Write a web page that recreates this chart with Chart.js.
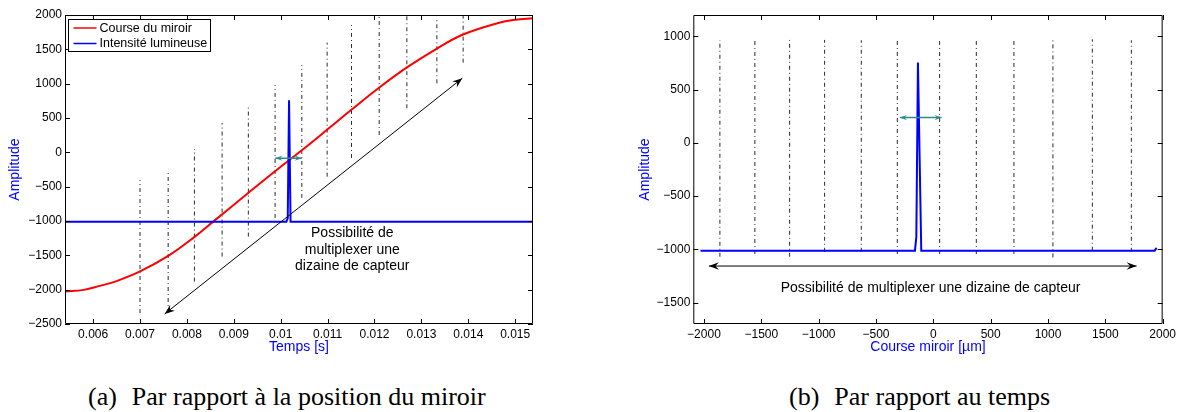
<!DOCTYPE html>
<html>
<head>
<meta charset="utf-8">
<script src="https://cdn.jsdelivr.net/npm/chart.js@4.4.0/dist/chart.umd.min.js"></script>
<style>
  body { margin: 0; background: #fff; width: 1179px; height: 412px; position: relative; overflow: hidden; }
  canvas { position: absolute; top: 0; }
  #cA { left: 0; }
  #cB { left: 620px; }
  .cap { position: absolute; top: 384px; font: 26px "Liberation Serif", "Times New Roman", serif; line-height: 26px; white-space: nowrap; color: #000; }
  .cap span { margin-right: 15px; }
</style>
</head>
<body>
<canvas id="cA" width="560" height="370"></canvas>
<canvas id="cB" width="559" height="370"></canvas>
<div class="cap" style="left:88px"><span>(a)</span>Par rapport à la position du miroir</div>
<div class="cap" style="left:789px"><span>(b)</span>Par rapport au temps</div>
<script>
// (a) amplitude vs temps
const timeTicks = [0.006, 0.007, 0.008, 0.009, 0.010, 0.011, 0.012, 0.013, 0.014, 0.015];
const ampTicksA = [-2500, -2000, -1500, -1000, -500, 0, 500, 1000, 1500, 2000];

const mirrorT   = [0.0054, 0.0058, 0.00614, 0.0065, 0.0070, 0.0076, 0.00817, 0.00856, 0.0093, 0.0099, 0.01045, 0.0110, 0.01152, 0.01211, 0.0127, 0.01334, 0.0139, 0.01466, 0.0150, 0.01538];
const mirrorAmp = [-2028, -2003, -1945, -1875, -1735, -1508, -1227, -1009, -596, -265, 30, 335, 627, 948, 1240, 1515, 1719, 1888, 1930, 1952];

const lightT    = [0.0054, 0.01012, 0.01015, 0.010178, 0.01021, 0.01538];
const lightAmp  = [-1010, -1010, -960, 760, -1010, -1010];

const marksT      = [0.0070, 0.0076, 0.00816, 0.00875, 0.00931, 0.00988, 0.01045, 0.01099, 0.01151, 0.0121, 0.01269, 0.01333, 0.01389];
const marksTop    = [-404, -256, 49, 427, 689, 980, 1271, 1597, 1854, 2000, 2000, 1950, 2000];
const marksBottom = [-2340, -2340, -1882, -1518, -1227, -955, -664, -354, -82, 253, 642, 1006, 1306];

// (b) amplitude vs course miroir
const posTicks  = [-2000, -1500, -1000, -500, 0, 500, 1000, 1500, 2000];
const ampTicksB = [-1500, -1000, -500, 0, 500, 1000];

const lightPos  = [-2030, -160, -148, -134, -105, 1930, 1947];
const lightAmpB = [-1012, -1012, -880, 754, -1012, -1012, -985];

const marksPos     = [-1861, -1556, -1253, -948, -628, -314, 55, 375, 703, 1043, 1387, 1727];
const marksTopB    = [963, 960, 966, 966, 963, 963, 963, 963, 963, 963, 972, 963];
const marksBottomB = [-1069, -1043, -1069, -1022, -1022, -1043, -1043, -1043, -1043, -1075, -1012, -1022];

Chart.defaults.font.family = '"Liberation Sans", Arial, sans-serif';
Chart.defaults.color = '#000';

const minus = v => String(v).replace('-', '\u2212');

function axes(o) {
  return {
    x: {
      type: 'linear', min: o.xMin, max: o.xMax,
      afterBuildTicks: s => { s.ticks = o.xTicks.map(v => ({ value: v })); },
      afterFit: s => { s.height = 46; },
      grid: { display: false, drawTicks: false }, border: { display: false },
      ticks: { padding: 3, autoSkip: false, maxRotation: 0, font: { size: 12 }, callback: o.xFmt },
      title: { display: true, text: o.xTitle, color: '#0000ff', font: { size: 14 }, padding: { top: 0, bottom: 14 } },
    },
    y: {
      type: 'linear', min: o.yMin, max: o.yMax,
      afterBuildTicks: s => { s.ticks = o.yTicks.map(v => ({ value: v })); },
      afterFit: s => { s.width = o.yWidth; },
      grid: { display: false, drawTicks: false }, border: { display: false },
      ticks: { padding: 3, autoSkip: false, font: { size: 12 }, callback: v => minus(v) },
      title: { display: true, text: 'Amplitude', color: '#0000ff', font: { size: 14 }, padding: { top: o.yTitlePad, bottom: 0 } },
    },
  };
}

// box + inward ticks on the four sides, like matlab
const frame = {
  id: 'frame',
  afterDatasetsDraw(chart) {
    const { ctx, chartArea: a, scales: { x, y } } = chart;
    ctx.save();
    ctx.strokeStyle = '#000';
    ctx.lineWidth = 1;
    ctx.beginPath();
    ctx.rect(a.left + 0.5, a.top + 0.5, a.width - 1, a.height - 1);
    x.ticks.forEach(t => {
      const px = Math.round(x.getPixelForValue(t.value)) + 0.5;
      ctx.moveTo(px, a.bottom); ctx.lineTo(px, a.bottom - 5);
      ctx.moveTo(px, a.top); ctx.lineTo(px, a.top + 5);
    });
    y.ticks.forEach(t => {
      const py = Math.round(y.getPixelForValue(t.value)) + 0.5;
      ctx.moveTo(a.left, py); ctx.lineTo(a.left + 5, py);
      ctx.moveTo(a.right, py); ctx.lineTo(a.right - 5, py);
    });
    ctx.stroke();
    ctx.restore();
  }
};

function head(ctx, x0, y0, x1, y1, len, w) {
  const ang = Math.atan2(y1 - y0, x1 - x0);
  ctx.save();
  ctx.translate(x1, y1);
  ctx.rotate(ang);
  ctx.beginPath();
  ctx.moveTo(0, 0);
  ctx.lineTo(-len, -w / 2);
  ctx.lineTo(-len * 0.65, 0);
  ctx.lineTo(-len, w / 2);
  ctx.closePath();
  ctx.fill();
  ctx.restore();
}

// arrows and text placed in data units
function notes(arrows, texts) {
  return {
    id: 'notes',
    afterDatasetsDraw(chart) {
      const { ctx, scales: { x, y } } = chart;
      ctx.save();
      arrows.forEach(a => {
        const x0 = x.getPixelForValue(a.from[0]), y0 = y.getPixelForValue(a.from[1]);
        const x1 = x.getPixelForValue(a.to[0]), y1 = y.getPixelForValue(a.to[1]);
        ctx.strokeStyle = ctx.fillStyle = a.color;
        ctx.lineWidth = a.width;
        ctx.beginPath(); ctx.moveTo(x0, y0); ctx.lineTo(x1, y1); ctx.stroke();
        head(ctx, x0, y0, x1, y1, a.head, a.head * 0.75);
        head(ctx, x1, y1, x0, y0, a.head, a.head * 0.75);
      });
      ctx.fillStyle = '#000';
      ctx.font = '14px "Liberation Sans", Arial, sans-serif';
      ctx.textAlign = 'center';
      ctx.textBaseline = 'middle';
      texts.forEach(t => {
        const px = x.getPixelForValue(t.at[0]), py = y.getPixelForValue(t.at[1]);
        const n = t.lines.length;
        t.lines.forEach((s, i) => ctx.fillText(s, px, py + (i - (n - 1) / 2) * 16.5));
      });
      ctx.restore();
    }
  };
}

const boxLegend = {
  id: 'boxLegend',
  afterDraw(chart) {
    const { ctx, chartArea: a } = chart;
    const items = chart.data.datasets.filter(d => d.label);
    const L = a.left + 3.5, T = a.top + 4.5, W = 142, H = 32;
    ctx.save();
    ctx.fillStyle = '#fff';
    ctx.fillRect(L, T, W, H);
    ctx.strokeStyle = '#000';
    ctx.lineWidth = 1;
    ctx.strokeRect(L, T, W, H);
    ctx.font = '12.5px "Liberation Sans", Arial, sans-serif';
    ctx.textBaseline = 'middle';
    items.forEach((d, i) => {
      const yy = T + 8.5 + i * 15.5;
      ctx.strokeStyle = d.borderColor;
      ctx.lineWidth = 1.5;
      ctx.beginPath(); ctx.moveTo(L + 5, yy); ctx.lineTo(L + 28, yy); ctx.stroke();
      ctx.fillStyle = '#000';
      ctx.fillText(d.label, L + 31, yy + 0.5);
    });
    ctx.restore();
  }
};

const pts = (xs, ys) => xs.map((v, i) => ({ x: v, y: ys[i] }));
const markSets = (xs, tops, bottoms) => xs.map((v, i) => ({
  data: [{ x: v, y: bottoms[i] }, { x: v, y: tops[i] }],
  borderColor: '#2a2a2a', borderWidth: 1, borderDash: [4, 3, 1, 3], pointRadius: 0, order: 2,
}));

const base = {
  responsive: false, animation: false, devicePixelRatio: 1,
  plugins: { legend: { display: false }, tooltip: { enabled: false } },
  elements: { point: { radius: 0 } },
};

new Chart(document.getElementById('cA'), {
  type: 'line',
  data: {
    datasets: [
      { label: 'Course du miroir', data: pts(mirrorT, mirrorAmp), borderColor: '#ff0000', borderWidth: 2, tension: 0.4, order: 1 },
      { label: 'Intensité lumineuse', data: pts(lightT, lightAmp), borderColor: '#0000ff', borderWidth: 2, order: 0 },
      ...markSets(marksT, marksTop, marksBottom),
    ]
  },
  options: {
    ...base,
    layout: { padding: { top: 15, right: 27, left: 0, bottom: 0 } },
    scales: axes({
      xMin: 0.0054, xMax: 0.01538, xTicks: timeTicks, xFmt: v => String(+v.toFixed(3)), xTitle: 'Temps [s]',
      yMin: -2500, yMax: 2000, yTicks: ampTicksA, yWidth: 65, yTitlePad: 6.6,
    }),
  },
  plugins: [frame, boxLegend, notes(
    [
      { from: [0.007526, -2353], to: [0.013872, 1079], color: '#000', width: 1, head: 10 },
      { from: [0.009886, -86], to: [0.010447, -86], color: '#2e8b8b', width: 1.5, head: 7 },
    ],
    [{ at: [0.011526, -1420], lines: ['Possibilité de', 'multiplexer une', 'dizaine de capteur'] }]
  )],
});

new Chart(document.getElementById('cB'), {
  type: 'line',
  data: {
    datasets: [
      { data: pts(lightPos, lightAmpB), borderColor: '#0000ff', borderWidth: 2, order: 0 },
      ...markSets(marksPos, marksTopB, marksBottomB),
    ]
  },
  options: {
    ...base,
    layout: { padding: { top: 15, right: 16.3, left: 0, bottom: 0 } },
    scales: axes({
      xMin: -2093, xMax: 2000, xTicks: posTicks, xFmt: v => minus(v), xTitle: 'Course miroir [\u00b5m]',
      yMin: -1700, yMax: 1200, yTicks: ampTicksB, yWidth: 73.3, yTitlePad: 16.6,
    }),
  },
  plugins: [frame, notes(
    [
      { from: [-1957, -1156], to: [1773, -1156], color: '#000', width: 1, head: 10 },
      { from: [-291, 238], to: [72, 238], color: '#2e8b8b', width: 1.5, head: 7 },
    ],
    [{ at: [-24, -1365], lines: ['Possibilité de multiplexer une dizaine de capteur'] }]
  )],
});
</script>
</body>
</html>
